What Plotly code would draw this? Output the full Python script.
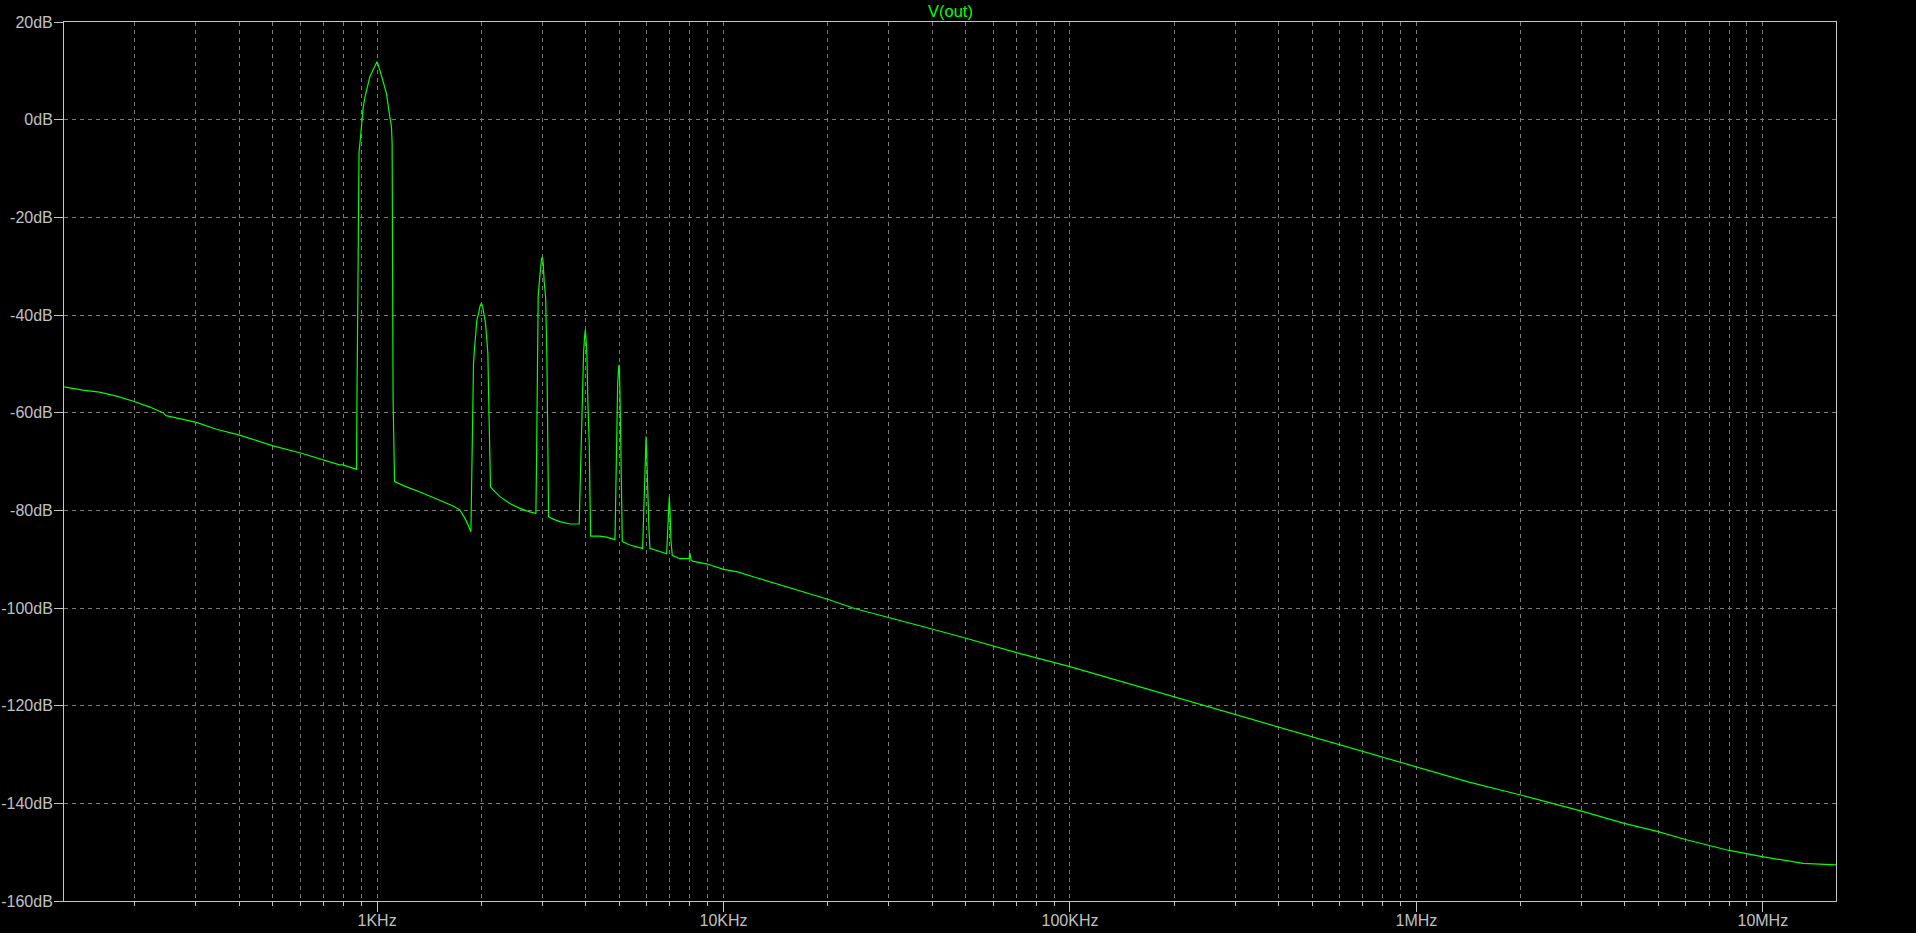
import plotly.graph_objects as go

# ---- data (frequency in Hz, magnitude in dB) ----
freq_hz = [
    125, 141.5, 158, 177, 197, 220, 241, 246, 301, 344, 401, 501, 598, 698, 780, 798, 872,
    875, 881, 887, 895, 903, 911, 921, 932, 942, 953, 974, 1000, 1018, 1040, 1064, 1088,
    1100, 1105, 1108, 1112, 1123,
    1138, 1216, 1358, 1517, 1658, 1733, 1792, 1831, 1865,
    1873, 1886, 1898, 1911, 1924, 1941, 1963, 1980, 2000, 2016, 2033, 2056, 2074, 2088,
    2097, 2111, 2125, 2163, 2262, 2417, 2584, 2761, 2873,
    2886, 2898, 2917, 2937, 2956, 2984, 3004, 3016, 3036, 3065, 3091, 3118, 3126,
    3224, 3370, 3603, 3832,
    3849, 3883, 3919, 3946, 3972, 3990, 4006, 4033, 4060, 4096, 4115, 4134,
    4397, 4598, 4860,
    4882, 4915, 4948, 4981, 5001, 5024, 5057, 5081, 5102, 5368, 5613, 5841,
    5864, 5903, 5943, 5975, 6005, 6038, 6091, 6132, 6553, 6851,
    6878, 6943, 6975, 7005, 7049, 7112, 7485, 7828,
    7950, 8000, 8060, 8136, 8986, 10000, 10984, 12315, 15904, 19985, 23886, 29978,
    39970, 50140, 70540, 100000, 200000, 302900, 401200, 601000,
    1.0e6, 1.41e6, 2.0e6, 3.0e6, 3.98e6, 4.99e6, 5.98e6, 7.94e6, 9.95e6, 1.307e7, 1.626e7,
]
mag_db = [
    -54.7, -55.4, -55.8, -56.6, -57.6, -58.8, -60.0, -60.6, -62.0, -63.4, -64.6, -66.8, -68.2, -69.6, -70.7, -70.7, -71.6,
    -56.0, -24.0, -6.6, -3.8, 0.0, 2.3, 4.4, 6.1, 7.4, 8.8, 10.2, 11.9, 10.2, 8.1, 5.4, 0.6,
    -1.4, -4.8, -22.9, -57.1, -74.1,
    -74.3, -75.2, -76.5, -77.9, -79.1, -79.9, -81.6, -83.0, -84.4,
    -76.2, -59.8, -49.9, -46.8, -43.1, -41.0, -39.7, -38.3, -37.6, -38.3, -39.7, -41.7, -45.1, -47.9,
    -55.4, -68.3, -75.2, -75.8, -77.2, -78.6, -79.6, -80.3, -80.6,
    -69.7, -48.5, -36.3, -33.5, -30.8, -28.4, -28.2, -29.4, -33.2, -36.3, -48.5, -70.4, -81.3,
    -81.8, -82.3, -82.8, -82.8,
    -77.2, -65.6, -54.7, -47.5, -44.4, -43.1, -44.4, -48.2, -58.1, -66.3, -76.5, -85.3,
    -85.3, -85.5, -86.0,
    -78.6, -63.6, -54.0, -50.6, -50.2, -56.0, -68.3, -80.6, -86.4, -87.1, -87.4, -87.8,
    -84.0, -76.5, -69.0, -64.9, -69.0, -76.5, -84.0, -87.8, -88.5, -88.9,
    -86.1, -80.3, -77.2, -80.0, -86.1, -89.2, -89.9, -89.9,
    -89.9, -88.8, -90.2, -90.4, -91.0, -92.1, -92.6, -93.7, -96.0, -98.2, -100.1, -101.9,
    -104.3, -106.2, -109.2, -112.0, -118.2, -121.9, -124.3, -127.9,
    -132.5, -135.6, -138.3, -141.6, -144.1, -145.8, -147.4, -149.6, -150.9, -152.3, -152.6,
]

x_major_vals = [1e3, 1e4, 1e5, 1e6, 1e7]
x_major_text = ["1KHz", "10KHz", "100KHz", "1MHz", "10MHz"]
x_minor_vals = [m * d for d in [1e2, 1e3, 1e4, 1e5, 1e6, 1e7] for m in range(2, 10)]
y_tick_vals = [20, 0, -20, -40, -60, -80, -100, -120, -140, -160]
y_tick_text = ["20dB", "0dB", "-20dB", "-40dB", "-60dB", "-80dB", "-100dB", "-120dB", "-140dB", "-160dB"]

TEXT = "#c0c0c0"
AXIS = "#c4c4c4"
GRID = "#7a7a7a"
GREEN = "#00ff00"
FONT = "Liberation Sans, Arial, sans-serif"

fig = go.Figure()
fig.add_trace(go.Scatter(
    x=freq_hz, y=mag_db, mode="lines",
    line=dict(color=GREEN, width=1.2), hoverinfo="skip", showlegend=False,
))

fig.update_layout(
    width=1916, height=933, autosize=False,
    paper_bgcolor="black", plot_bgcolor="black",
    margin=dict(l=64, r=80, t=22, b=32, pad=0, autoexpand=False),
    font=dict(family=FONT, size=16, color=TEXT),
    showlegend=False,
    annotations=[dict(
        text="V(out)", x=0.5, y=1, xref="paper", yref="paper",
        xanchor="center", yanchor="bottom", yshift=0, showarrow=False,
        font=dict(family=FONT, size=16.5, color=GREEN),
    )],
)

fig.update_xaxes(
    type="log", range=[2.0962, 7.2112], automargin=False,
    tickmode="array", tickvals=x_major_vals, ticktext=x_major_text,
    ticks="outside", ticklen=10, tickwidth=1, tickcolor=AXIS,
    ticklabelstandoff=-5,
    showgrid=True, gridcolor=GRID, gridwidth=1, griddash="4px,4px",
    showline=True, linecolor=AXIS, linewidth=1, mirror=True,
    zeroline=False,
    tickfont=dict(family=FONT, size=16, color=TEXT),
    minor=dict(tickmode="array", tickvals=x_minor_vals, ticks="outside", ticklen=4,
               tickcolor=AXIS, tickwidth=1, showgrid=True, gridcolor=GRID,
               gridwidth=1, griddash="4px,4px"),
)
fig.update_yaxes(
    range=[-160, 20], automargin=False,
    tickmode="array", tickvals=y_tick_vals, ticktext=y_tick_text,
    ticks="outside", ticklen=9, tickwidth=1, tickcolor=AXIS,
    ticklabelstandoff=-2,
    showgrid=True, gridcolor=GRID, gridwidth=1, griddash="4px,4px",
    showline=True, linecolor=AXIS, linewidth=1, mirror=True,
    zeroline=False,
    tickfont=dict(family=FONT, size=16, color=TEXT),
)

fig.write_html(
    "out.html",
    config={"displayModeBar": False},
    post_script="document.body.style.margin='0';document.body.style.background='black';"
                "document.documentElement.style.overflow='hidden';",
)
